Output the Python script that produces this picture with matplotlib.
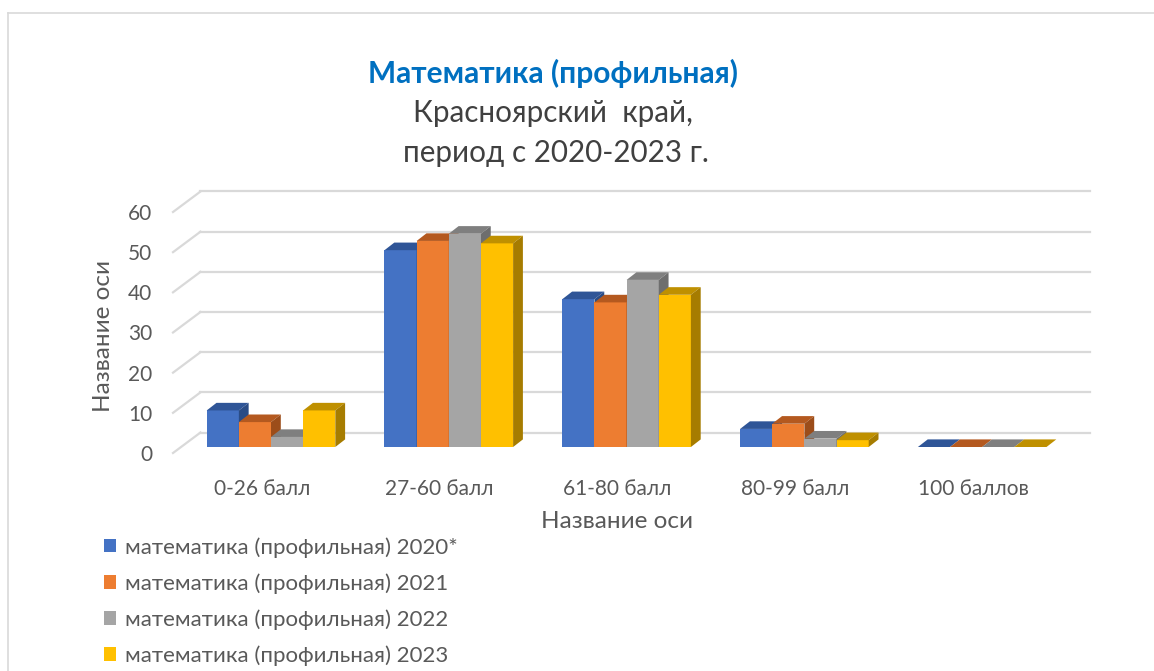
import matplotlib
matplotlib.use("Agg")
import matplotlib.pyplot as plt
from matplotlib.patches import Polygon
from matplotlib.lines import Line2D
import numpy as np

categories = ["0-26 балл", "27-60 балл", "61-80 балл", "80-99 балл", "100 баллов"]
series_names = ["математика (профильная) 2020*", "математика (профильная) 2021",
                "математика (профильная) 2022", "математика (профильная) 2023"]
v2020 = [9.1, 49.0, 36.8, 4.5, 0.0]
v2021 = [6.2, 51.3, 36.0, 5.8, 0.0]
v2022 = [2.5, 53.1, 41.6, 2.1, 0.0]
v2023 = [9.1, 50.7, 37.9, 1.7, 0.0]
series_values = [v2020, v2021, v2022, v2023]
yticks = [0, 10, 20, 30, 40, 50, 60]

front_colors = ["#4472C4", "#ED7D31", "#A5A5A5", "#FFC000"]
top_colors = ["#2F5597", "#B4591F", "#7F7F7F", "#BF9000"]
side_colors = ["#2A4C86", "#9C4D1A", "#6E6E6E", "#A67C00"]

FONT = ["Lato", "DejaVu Sans"]
plt.rcParams["font.family"] = FONT

W, H = 1154, 671
fig = plt.figure(figsize=(W / 100, H / 100), dpi=100)

# front plane of the 3D box (pixel geometry)
ax_left, ax_right = 173, 1062
ax_top, ax_bottom = 212, 453
ax = fig.add_axes([ax_left / W, 1 - ax_bottom / H, (ax_right - ax_left) / W, (ax_bottom - ax_top) / H])
ax.set_xlim(-0.5, 4.5)
ax.set_ylim(0, 60)
for s in ax.spines.values():
    s.set_visible(False)
ax.patch.set_alpha(0)

pxx = (ax_right - ax_left) / 5.0      # pixels per category
pxy = (ax_bottom - ax_top) / 60.0     # pixels per value unit

def dx(px):
    return px / pxx

def dy(px):
    return px / pxy

# back wall gridlines + left diagonals
wall_dx, wall_dy = dx(27.5), dy(20.5)
grid_col = "#D9D9D9"
for v in yticks:
    ax.add_line(Line2D([-0.5 + wall_dx, 4.5 + wall_dx], [v + wall_dy, v + wall_dy],
                       color=grid_col, lw=1.6, clip_on=False, zorder=1))
    ax.add_line(Line2D([-0.5, -0.5 + wall_dx], [v, v + wall_dy],
                       color=grid_col, lw=1.6, clip_on=False, zorder=1))

# bars
x = np.arange(len(categories))
bw = dx(32.15)
off_x = dx(9.1)
base = dy(6.0)
depth_x, depth_y = dx(9.8), dy(7.6)
nser = len(series_values)
handles = []
for i, vals in enumerate(series_values):
    xs = x + off_x + (i - (nser - 1) / 2) * bw
    bars = ax.bar(xs, vals, width=bw, bottom=base, color=front_colors[i],
                  edgecolor="none", zorder=3 + i, clip_on=False, label=series_names[i])
    handles.append(bars)
    for r in bars:
        x0 = r.get_x()
        x1 = x0 + r.get_width()
        y0 = r.get_y()
        y1 = y0 + r.get_height()
        top = Polygon([(x0, y1), (x1, y1), (x1 + depth_x, y1 + depth_y), (x0 + depth_x, y1 + depth_y)],
                      closed=True, facecolor=top_colors[i], edgecolor="none", zorder=3 + i, clip_on=False)
        side = Polygon([(x1, y0), (x1, y1), (x1 + depth_x, y1 + depth_y), (x1 + depth_x, y0 + depth_y)],
                       closed=True, facecolor=side_colors[i], edgecolor="none", zorder=3 + i, clip_on=False)
        ax.add_patch(top)
        ax.add_patch(side)

tick_col = "#595959"
ax.set_xticks(x)
ax.set_xticklabels(categories, fontsize=15, color=tick_col)
ax.set_yticks(yticks)
ax.set_yticklabels([str(v) for v in yticks], fontsize=15, color=tick_col)
ax.tick_params(axis="both", length=0)
ax.tick_params(axis="x", pad=19)
ax.tick_params(axis="y", pad=15)

# axis titles
fig.text(617 / W, 1 - 522 / H, "Название оси", ha="center", va="center", fontsize=17.5, color=tick_col)
fig.text(103 / W, 1 - 336 / H, "Название оси", ha="center", va="center", rotation=90,
         fontsize=17.5, color=tick_col)

# chart title
fig.text(553 / W, 1 - 73 / H, "Математика (профильная)", ha="center", va="center",
         fontsize=21.5, fontweight="bold", color="#0070C0")
fig.text(553 / W, 1 - 113 / H, "Красноярский  край,", ha="center", va="center",
         fontsize=21.3, color="#404040")
fig.text(556 / W, 1 - 153 / H, "период с 2020-2023 г.", ha="center", va="center",
         fontsize=21.3, color="#404040")

# legend
leg = fig.legend(handles=handles, labels=series_names, loc="upper left",
                 bbox_to_anchor=(104 / W, 1 - 537 / H), frameon=False, fontsize=16,
                 handlelength=0.55, handleheight=0.55, handletextpad=0.4,
                 labelspacing=0.7, borderpad=0, borderaxespad=0)
for t in leg.get_texts():
    t.set_color(tick_col)

# chart border (left and top visible)
fig.add_artist(Line2D([8 / W, 8 / W], [0, 1 - 13 / H], transform=fig.transFigure, color="#D9D9D9", lw=1.2))
fig.add_artist(Line2D([8 / W, 1], [1 - 13 / H, 1 - 13 / H], transform=fig.transFigure, color="#D9D9D9", lw=1.2))

fig.savefig("out.png", dpi=100, facecolor="white")
